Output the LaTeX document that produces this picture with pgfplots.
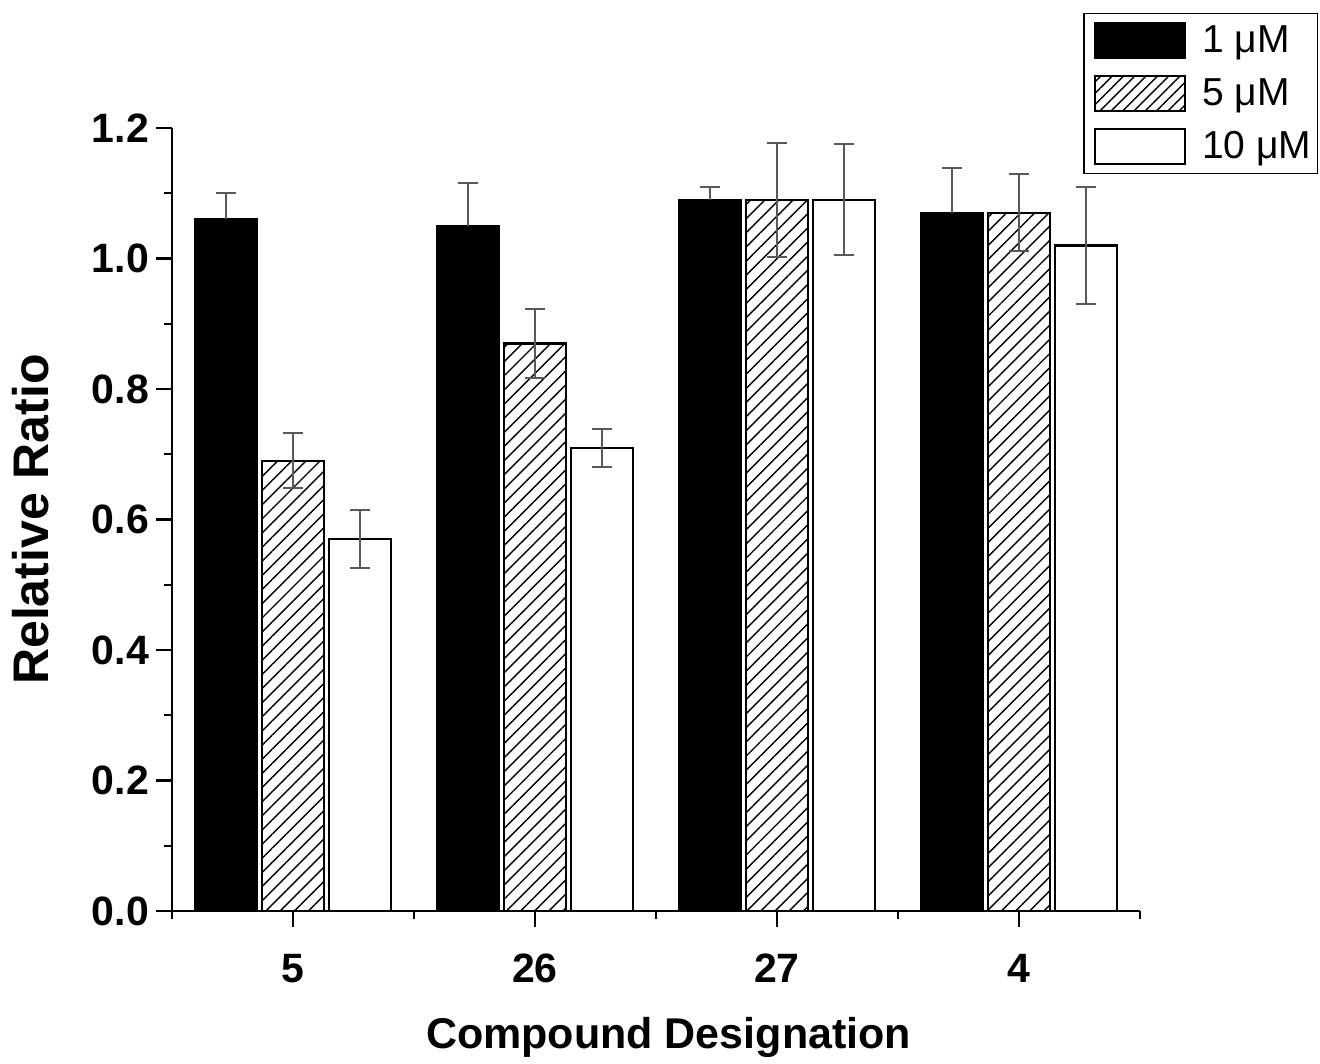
\documentclass[border=0pt]{standalone}
\usepackage{pgfplots}
\pgfplotsset{compat=1.18}
\usepackage{fontspec}
\setmainfont{Liberation Sans}
\usetikzlibrary{patterns.meta}
\pgfplotsset{
  eb/.style={error bars/y dir=#1, error bars/y explicit,
    error bars/error bar style={line width=1bp, color=black!65},
    error bars/error mark options={rotate=90, mark size=5bp, line width=1bp, color=black!65}},
}
\begin{document}
\begin{tikzpicture}
\begin{axis}[
  scale only axis, width=484bp, height=391.5bp,
  xmin=-0.5, xmax=3.5, ymin=0, ymax=1.2,
  axis x line*=bottom, axis y line*=left,
  axis line style={line width=1.2bp,-},
  every tick/.style={line width=1.2bp, black},
  tick align=outside,
  major tick length=8bp, minor tick length=4bp,
  xtick={0,1,2,3}, xticklabels={5,26,27,4},
  minor xtick={-0.5,0.5,1.5,2.5,3.5},
  ytick={0,0.2,0.4,0.6,0.8,1.0,1.2},
  minor ytick={0.1,0.3,0.5,0.7,0.9,1.1},
  yticklabel style={/pgf/number format/.cd, fixed, fixed zerofill, precision=1},
  xticklabel style={yshift=-10bp},
  /pgf/number format/assume math mode=true,
  tick label style={font=\fontsize{20.5bp}{24bp}\selectfont\bfseries},
  xlabel={Compound Designation}, ylabel={Relative Ratio},
  xlabel style={at={(axis description cs:0.513,-0.161)}, anchor=center,
    font=\fontsize{21.5bp}{25bp}\selectfont\bfseries},
  ylabel style={at={(axis description cs:-0.1457,0.5)}, anchor=center,
    font=\fontsize{25bp}{30bp}\selectfont\bfseries},
  legend style={at={(axis description cs:1.184,1.147)}, anchor=north east,
    draw=black, line width=0.8bp, font=\fontsize{19.5bp}{24bp}\selectfont,
    row sep=7.5bp, inner xsep=2bp, inner ysep=4bp, nodes={inner xsep=1bp}},
  legend cell align=left,
  ybar, bar width=31bp,
  clip=false,
]
\addplot[fill=black, draw=black, line width=1.2bp, bar shift=-33.5bp,
  legend image code/.code={\path (0bp,0) (55bp,0); \draw[line width=1bp, fill=black] (3bp,-8.75bp) rectangle (48bp,8.75bp);}, eb=plus]
  coordinates {(0,1.06) +- (0,0.04) (1,1.05) +- (0,0.066) (2,1.09) +- (0,0.02) (3,1.07) +- (0,0.069)};
\addplot[fill=white, draw=black, line width=1.2bp, bar shift=0bp,
  pattern={Lines[angle=45,distance=5bp,line width=0.7bp]},
  legend image code/.code={\path (0bp,0) (55bp,0); \draw[line width=1bp, pattern={Lines[angle=45,distance=4bp,line width=0.7bp]}] (3bp,-8.75bp) rectangle (48bp,8.75bp);}, eb=both]
  coordinates {(0,0.69) +- (0,0.042) (1,0.87) +- (0,0.053) (2,1.09) +- (0,0.087) (3,1.07) +- (0,0.059)};
\addplot[fill=white, draw=black, line width=1.2bp, bar shift=33.5bp,
  legend image code/.code={\path (0bp,0) (55bp,0); \draw[line width=1bp, fill=white] (3bp,-8.75bp) rectangle (48bp,8.75bp);}, eb=both]
  coordinates {(0,0.57) +- (0,0.044) (1,0.71) +- (0,0.029) (2,1.09) +- (0,0.085) (3,1.02) +- (0,0.09)};
\legend{1 μM, 5 μM, 10 μM}
\end{axis}
\path (-86bp,-74.5bp) rectangle (574bp,455.5bp);
\end{tikzpicture}
\end{document}
